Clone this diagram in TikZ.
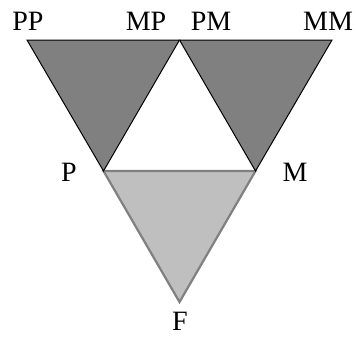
\documentclass[tikz,border=0pt]{standalone}
\usepackage{fontspec}
\setmainfont{Liberation Serif}
\begin{document}
\begin{tikzpicture}[x=1pt,y=-1pt,
  lbl/.style={anchor=base,inner sep=0pt,font=\fontsize{28}{31}\selectfont},
  darktri/.style={fill=black!50,draw=black,line width=1pt,line join=miter},
  lighttri/.style={fill=black!25,draw=black!50,line width=2.2pt,line join=miter}]
\useasboundingbox (0,0) rectangle (358,338);
\coordinate (A) at (27,40);
\coordinate (B) at (179.5,40);
\coordinate (C) at (332,40);
\coordinate (P) at (103.5,171);
\coordinate (M) at (255.5,171);
\coordinate (F) at (179.5,302);
\fill[white] (P) -- (B) -- (M) -- cycle;
\draw[lighttri] (P) -- (M) -- (F) -- cycle;
\draw[darktri] (A) -- (B) -- (P) -- cycle;
\draw[darktri] (B) -- (C) -- (M) -- cycle;
\node[lbl] (pp) at (28,30) {PP};
\node[lbl] (mp) at (146,30) {MP};
\node[lbl] (pm) at (211,30) {PM};
\node[lbl] (mm) at (328,30) {MM};
\node[lbl] (p) at (69,181) {P};
\node[lbl] (m) at (295,181) {M};
\node[lbl] (f) at (180,330) {F};
\end{tikzpicture}
\end{document}
